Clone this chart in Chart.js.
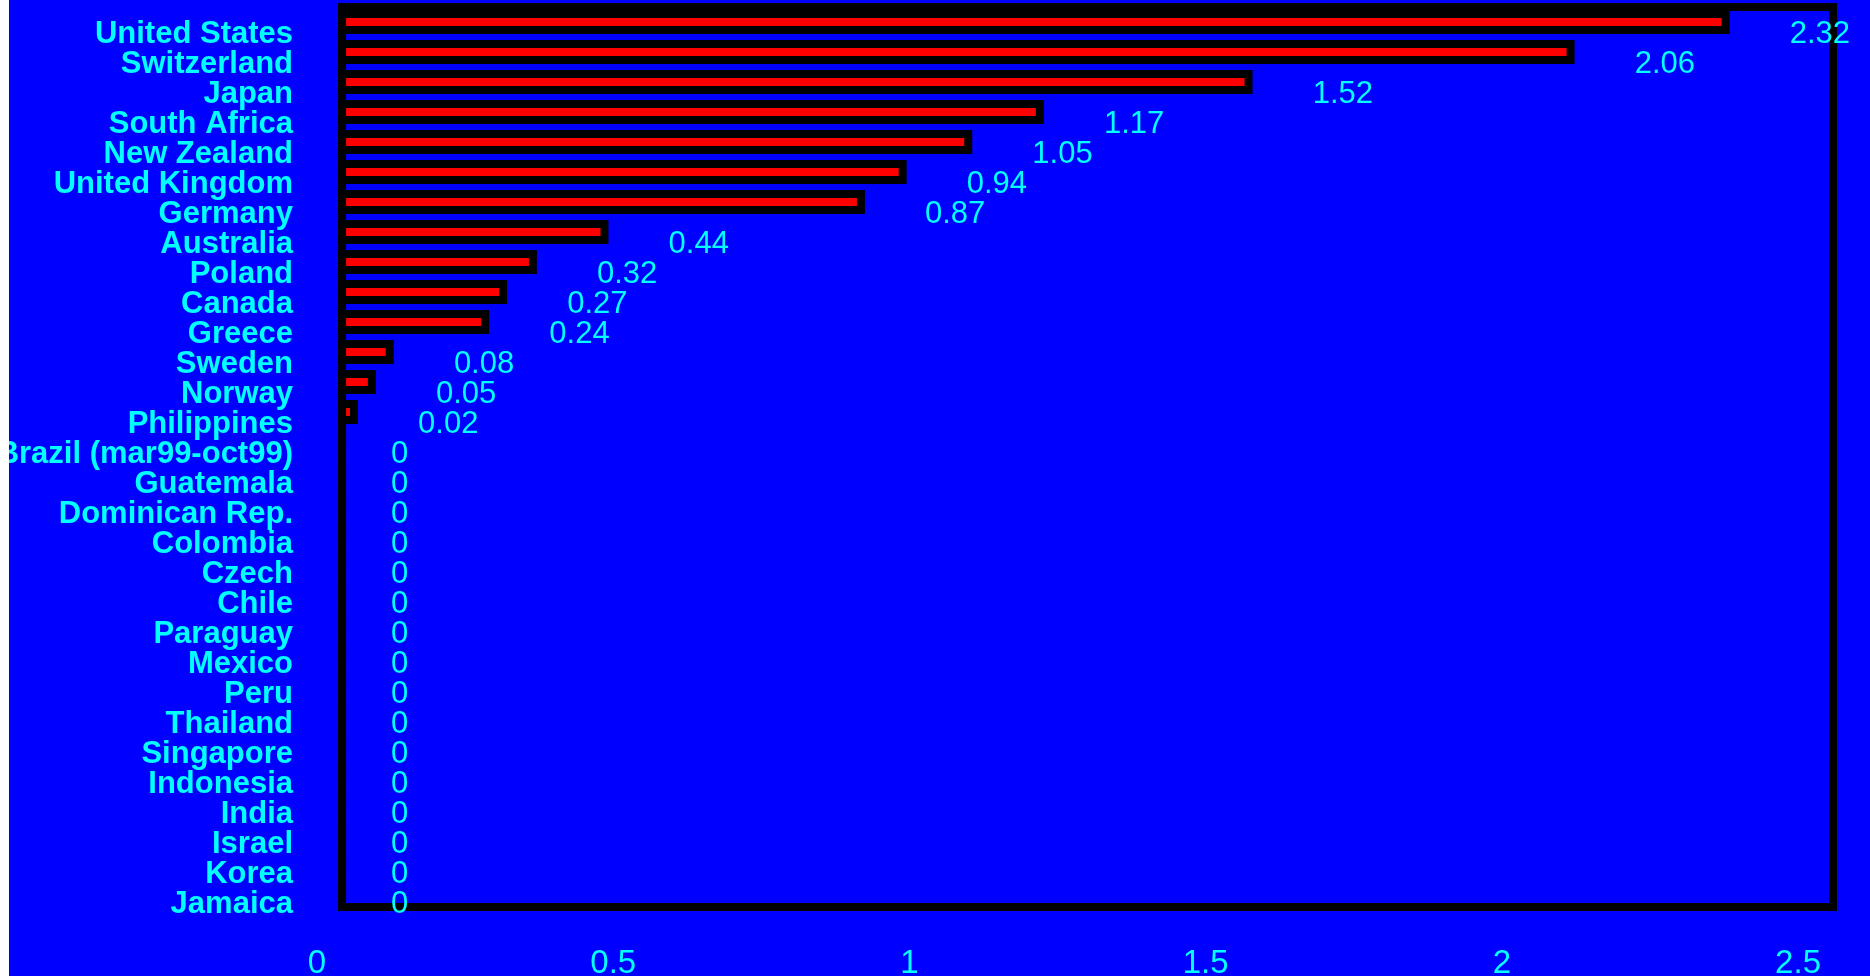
<!DOCTYPE html>
<html>
<head>
<meta charset="utf-8">
<script src="https://cdn.jsdelivr.net/npm/chart.js@4.4.0/dist/chart.umd.min.js"></script>
<style>
html,body{margin:0;padding:0;background:#ffffff;overflow:hidden}
#caja{position:absolute;left:9px;top:0;width:1861px;height:976px;background:#0000ff}
</style>
</head>
<body>
<div id="caja"><canvas id="myBar" width="1861" height="976"></canvas></div>
<script>
var paises = ["United States","Switzerland","Japan","South Africa","New Zealand","United Kingdom",
    "Germany","Australia","Poland","Canada","Greece","Sweden","Norway","Philippines",
    "Brazil (mar99-oct99)","Guatemala","Dominican Rep.","Colombia","Czech","Chile","Paraguay",
    "Mexico","Peru","Thailand","Singapore","Indonesia","India","Israel","Korea","Jamaica"];
var valores = [2.32,2.06,1.52,1.17,1.05,0.94,0.87,0.44,0.32,0.27,0.24,0.08,0.05,0.02,
    0,0,0,0,0,0,0,0,0,0,0,0,0,0,0,0];
var xTicks = [0,0.5,1,1.5,2,2.5];

var cian = "#00ffff";

// contorno negro de las barras, marco y etiquetas de valor
const dibujos = {
    id: "dibujos",
    afterDatasetsDraw(chart){
        const ctx = chart.ctx;
        const area = chart.chartArea;
        const xs = chart.scales.x;
        const meta = chart.getDatasetMeta(0);
        ctx.save();
        ctx.strokeStyle = "#000000";
        ctx.lineWidth = 8;
        meta.data.forEach(bar => {
            const p = bar.getProps(["x","y","base","height"], true);
            ctx.strokeRect(p.base, p.y - p.height/2, p.x - p.base, p.height);
        });
        const x0 = xs.getPixelForValue(0);
        ctx.strokeRect(x0, area.top, area.right - x0, area.bottom - area.top);

        ctx.fillStyle = cian;
        ctx.font = "31px 'Liberation Sans'";
        ctx.textAlign = "left";
        ctx.textBaseline = "alphabetic";
        meta.data.forEach((bar, i) => {
            const txt = String(valores[i]);
            const w = ctx.measureText(txt).width;
            ctx.fillText(txt, bar.x + 43 + 0.35*w, bar.y + 20.7);
        });
        ctx.restore();
    }
};

const config = {
    type: "bar",
    data: {
        labels: paises,
        datasets: [{
            label: "valor",
            data: valores,
            backgroundColor: "#ff0000",
            borderWidth: 0,
            barThickness: 16,
            xAxisID: "x",
            yAxisID: "y"
        }]
    },
    options: {
        indexAxis: "y",
        responsive: false,
        animation: false,
        layout: { padding: { top: 7, right: 37, bottom: 0, left: 0 } },
        plugins: {
            legend: { display: false },
            tooltip: { enabled: false }
        },
        scales: {
            x: {
                type: "linear",
                display: false,
                min: -0.042,
                max: 2.5
            },
            x2: {
                type: "linear",
                position: "bottom",
                min: 0,
                max: 2.559,
                grid: { display: false },
                border: { display: false },
                afterBuildTicks: s => { s.ticks = xTicks.map(v => ({ value: v })); },
                afterFit: s => { s.height = 69; },
                ticks: {
                    color: cian,
                    font: { family: "Liberation Sans", size: 33 },
                    padding: 29,
                    maxRotation: 0,
                    autoSkip: false,
                    callback: v => String(v)
                }
            },
            y: {
                type: "category",
                position: "left",
                grid: { display: false, drawTicks: false },
                border: { display: false },
                afterFit: s => { s.width = 308; s.paddingTop = 0; s.paddingBottom = 0; },
                ticks: {
                    color: cian,
                    font: { family: "Liberation Sans", size: 31, weight: "bold" },
                    padding: 24,
                    labelOffset: 12.5,
                    autoSkip: false
                }
            }
        }
    },
    plugins: [dibujos]
};

let mychart = new Chart(document.getElementById("myBar").getContext("2d"), config);
</script>
</body>
</html>
